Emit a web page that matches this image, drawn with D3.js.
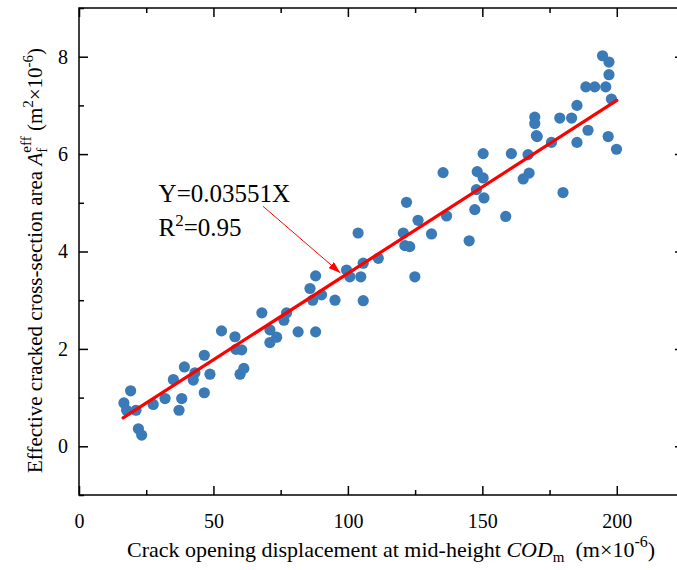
<!DOCTYPE html>
<html>
<head>
<meta charset="utf-8">
<script src="https://cdn.jsdelivr.net/npm/d3@7"></script>
<style>
  body { margin: 0; background: #fff; }
  svg { display: block; font-family: "Liberation Serif", "Times New Roman", serif; }
</style>
</head>
<body>
<svg id="chart" width="677" height="570"></svg>
<script>
// measured points: crack opening displacement (m x 1e-6) vs effective area (m^2 x 1e-6)
const codValues = [
  19.2, 16.7, 17.7, 21.2, 22.1, 23.3, 27.6, 32.0, 35.1, 38.2, 37.2, 39.2, 43.1, 42.5,
  46.6, 48.7, 46.6, 53.0, 58.0, 58.4, 60.5, 59.9, 61.3, 68.0,
  103.8, 111.3, 105.7, 104.8, 99.5, 100.7, 88.0, 85.9, 90.2, 86.9, 95.2, 105.7,
  77.2, 76.2, 81.5, 88.0, 71.0, 73.5, 71.0,
  170.1, 150.3, 160.8, 167.0, 135.4, 148.1, 150.3, 167.4, 165.2, 147.8, 150.6, 121.8,
  147.2, 136.7, 158.7, 126.1, 120.6, 131.1, 121.2, 123.0, 145.1, 124.9,
  194.7, 197.1, 197.1, 188.5, 191.8, 195.9, 198.0, 185.2, 169.5, 169.5, 178.8, 183.2,
  189.3, 170.4, 196.8, 175.7, 185.2, 199.9, 180.0
];
const areaValues = [
  1.14, 0.89, 0.74, 0.74, 0.36, 0.23, 0.86, 0.98, 1.37, 0.98, 0.74, 1.63, 1.51, 1.36,
  1.87, 1.48, 1.10, 2.37, 2.25, 1.99, 1.98, 1.48, 1.60, 2.74,
  4.38, 3.86, 3.76, 3.48, 3.62, 3.48, 3.50, 3.24, 3.11, 3.00, 3.00, 2.99,
  2.74, 2.59, 2.35, 2.35, 2.39, 2.24, 2.13,
  6.38, 6.01, 6.01, 5.99, 5.62, 5.64, 5.51, 5.61, 5.49, 5.27, 5.10, 5.01,
  4.86, 4.73, 4.72, 4.64, 4.38, 4.36, 4.12, 4.10, 4.22, 3.48,
  8.02, 7.89, 7.63, 7.38, 7.38, 7.38, 7.13, 7.00, 6.76, 6.63, 6.74, 6.74,
  6.49, 6.36, 6.36, 6.24, 6.24, 6.10, 5.21
];

const slope = 0.03551;
const fitRange = [16.4, 200];

const xTicks = [0, 50, 100, 150, 200];
const yTicks = [0, 2, 4, 6, 8];

const points = codValues.map((x, i) => ({ x: x, y: areaValues[i] }));

const svg = d3.select('#chart');
const plotLeft = 79, plotTop = 8, plotRight = 684, plotBottom = 495;

const x = d3.scaleLinear().domain([0, 225]).range([plotLeft, plotRight]);
const y = d3.scaleLinear().domain([-1, 9]).range([plotBottom, plotTop]);

// frame
svg.append('rect')
  .attr('x', plotLeft).attr('y', plotTop)
  .attr('width', plotRight - plotLeft).attr('height', plotBottom - plotTop)
  .attr('fill', 'none').attr('stroke', '#000').attr('stroke-width', 1.5);

// ticks, all pointing inward on every side
function drawTicks(axis, scale, size, values, label) {
  const g = svg.append('g').attr('transform', axis.tr).call(
    axis.fn(scale).tickValues(values).tickSize(size).tickSizeOuter(0)
      .tickFormat(label ? d3.format('d') : '')
  );
  g.select('.domain').remove();
  g.selectAll('line').attr('stroke', '#000').attr('stroke-width', 1.5);
  g.selectAll('text').attr('fill', '#000').style('font-size', '20px')
    .style('font-family', '"Liberation Serif", serif');
  return g;
}
const xMinor = d3.range(25, 225, 50);
const yMinor = d3.range(-1, 9.5, 2);

const gx = drawTicks({ fn: d3.axisTop, tr: `translate(0,${plotBottom})` }, x, 9, xTicks, true);
gx.selectAll('text').attr('y', 0).attr('dy', '1.0em').attr('transform', 'translate(0,13)');
drawTicks({ fn: d3.axisTop, tr: `translate(0,${plotBottom})` }, x, 5, xMinor, false);
drawTicks({ fn: d3.axisBottom, tr: `translate(0,${plotTop})` }, x, 9, xTicks, false);
drawTicks({ fn: d3.axisBottom, tr: `translate(0,${plotTop})` }, x, 5, xMinor, false);

const gy = drawTicks({ fn: d3.axisRight, tr: `translate(${plotLeft},0)` }, y, 9, yTicks, true);
gy.selectAll('text').attr('x', -11).attr('text-anchor', 'end');
drawTicks({ fn: d3.axisRight, tr: `translate(${plotLeft},0)` }, y, 5, yMinor, false);
drawTicks({ fn: d3.axisLeft, tr: `translate(${plotRight},0)` }, y, 9, yTicks, false);
drawTicks({ fn: d3.axisLeft, tr: `translate(${plotRight},0)` }, y, 5, yMinor, false);

// data
svg.append('g').selectAll('circle')
  .data(points)
  .join('circle')
  .attr('cx', d => x(d.x))
  .attr('cy', d => y(d.y))
  .attr('r', 5.6)
  .attr('fill', '#3a7ab7');

// fitted line
svg.append('line')
  .attr('x1', x(fitRange[0])).attr('y1', y(slope * fitRange[0]))
  .attr('x2', x(fitRange[1])).attr('y2', y(slope * fitRange[1]))
  .attr('stroke', '#ff0000').attr('stroke-width', 3.2).attr('stroke-linecap', 'round');

// annotation
const note = svg.append('g').style('font-size', '25px').attr('fill', '#000');
note.append('text').attr('x', x(29.6)).attr('y', y(5.02)).text('Y=0.03551X');
const r2 = note.append('text').attr('x', x(29.6)).attr('y', y(4.32));
r2.append('tspan').text('R');
r2.append('tspan').attr('dy', -10).style('font-size', '17px').text('2');
r2.append('tspan').attr('dy', 10).text('=0.95');

svg.append('defs').append('marker')
  .attr('id', 'head').attr('viewBox', '0 0 12 8')
  .attr('refX', 12).attr('refY', 4)
  .attr('markerWidth', 12).attr('markerHeight', 8)
  .attr('markerUnits', 'userSpaceOnUse').attr('orient', 'auto')
  .append('path').attr('d', 'M0,0 L12,4 L0,8 Z').attr('fill', '#ff0000');

svg.append('line')
  .attr('x1', x(68.4)).attr('y1', y(4.93))
  .attr('x2', x(97.2)).attr('y2', y(3.56))
  .attr('stroke', '#ff0000').attr('stroke-width', 1)
  .attr('marker-end', 'url(#head)');

// axis titles
const xt = svg.append('text')
  .attr('x', 127).attr('y', 557)
  .style('font-size', '22px').attr('fill', '#000');
xt.append('tspan').text('Crack opening displacement at mid-height ');
xt.append('tspan').style('font-style', 'italic').text('COD');
xt.append('tspan').attr('dy', 5).style('font-size', '15px').text('m');
xt.append('tspan').attr('dy', -5).text('\u00a0\u00a0(m\u00d710');
xt.append('tspan').attr('dy', -10).style('font-size', '16px').text('-6');
xt.append('tspan').attr('dy', 10).text(')');

const yt = svg.append('text')
  .attr('transform', 'translate(42,473) rotate(-90)')
  .style('font-size', '21px').attr('fill', '#000');
yt.append('tspan').text('Effective cracked cross-section area ');
yt.append('tspan').style('font-style', 'italic').text('A');
yt.append('tspan').attr('dy', 5).style('font-size', '15px').text('f');
yt.append('tspan').attr('dx', -5).attr('dy', -16).style('font-size', '15px').text('eff');
yt.append('tspan').attr('dy', 11).text('\u00a0(m');
yt.append('tspan').attr('dy', -9).style('font-size', '15px').text('2');
yt.append('tspan').attr('dy', 9).text('\u00d710');
yt.append('tspan').attr('dy', -9).style('font-size', '15px').text('-6');
yt.append('tspan').attr('dy', 9).text(')');
</script>
</body>
</html>
